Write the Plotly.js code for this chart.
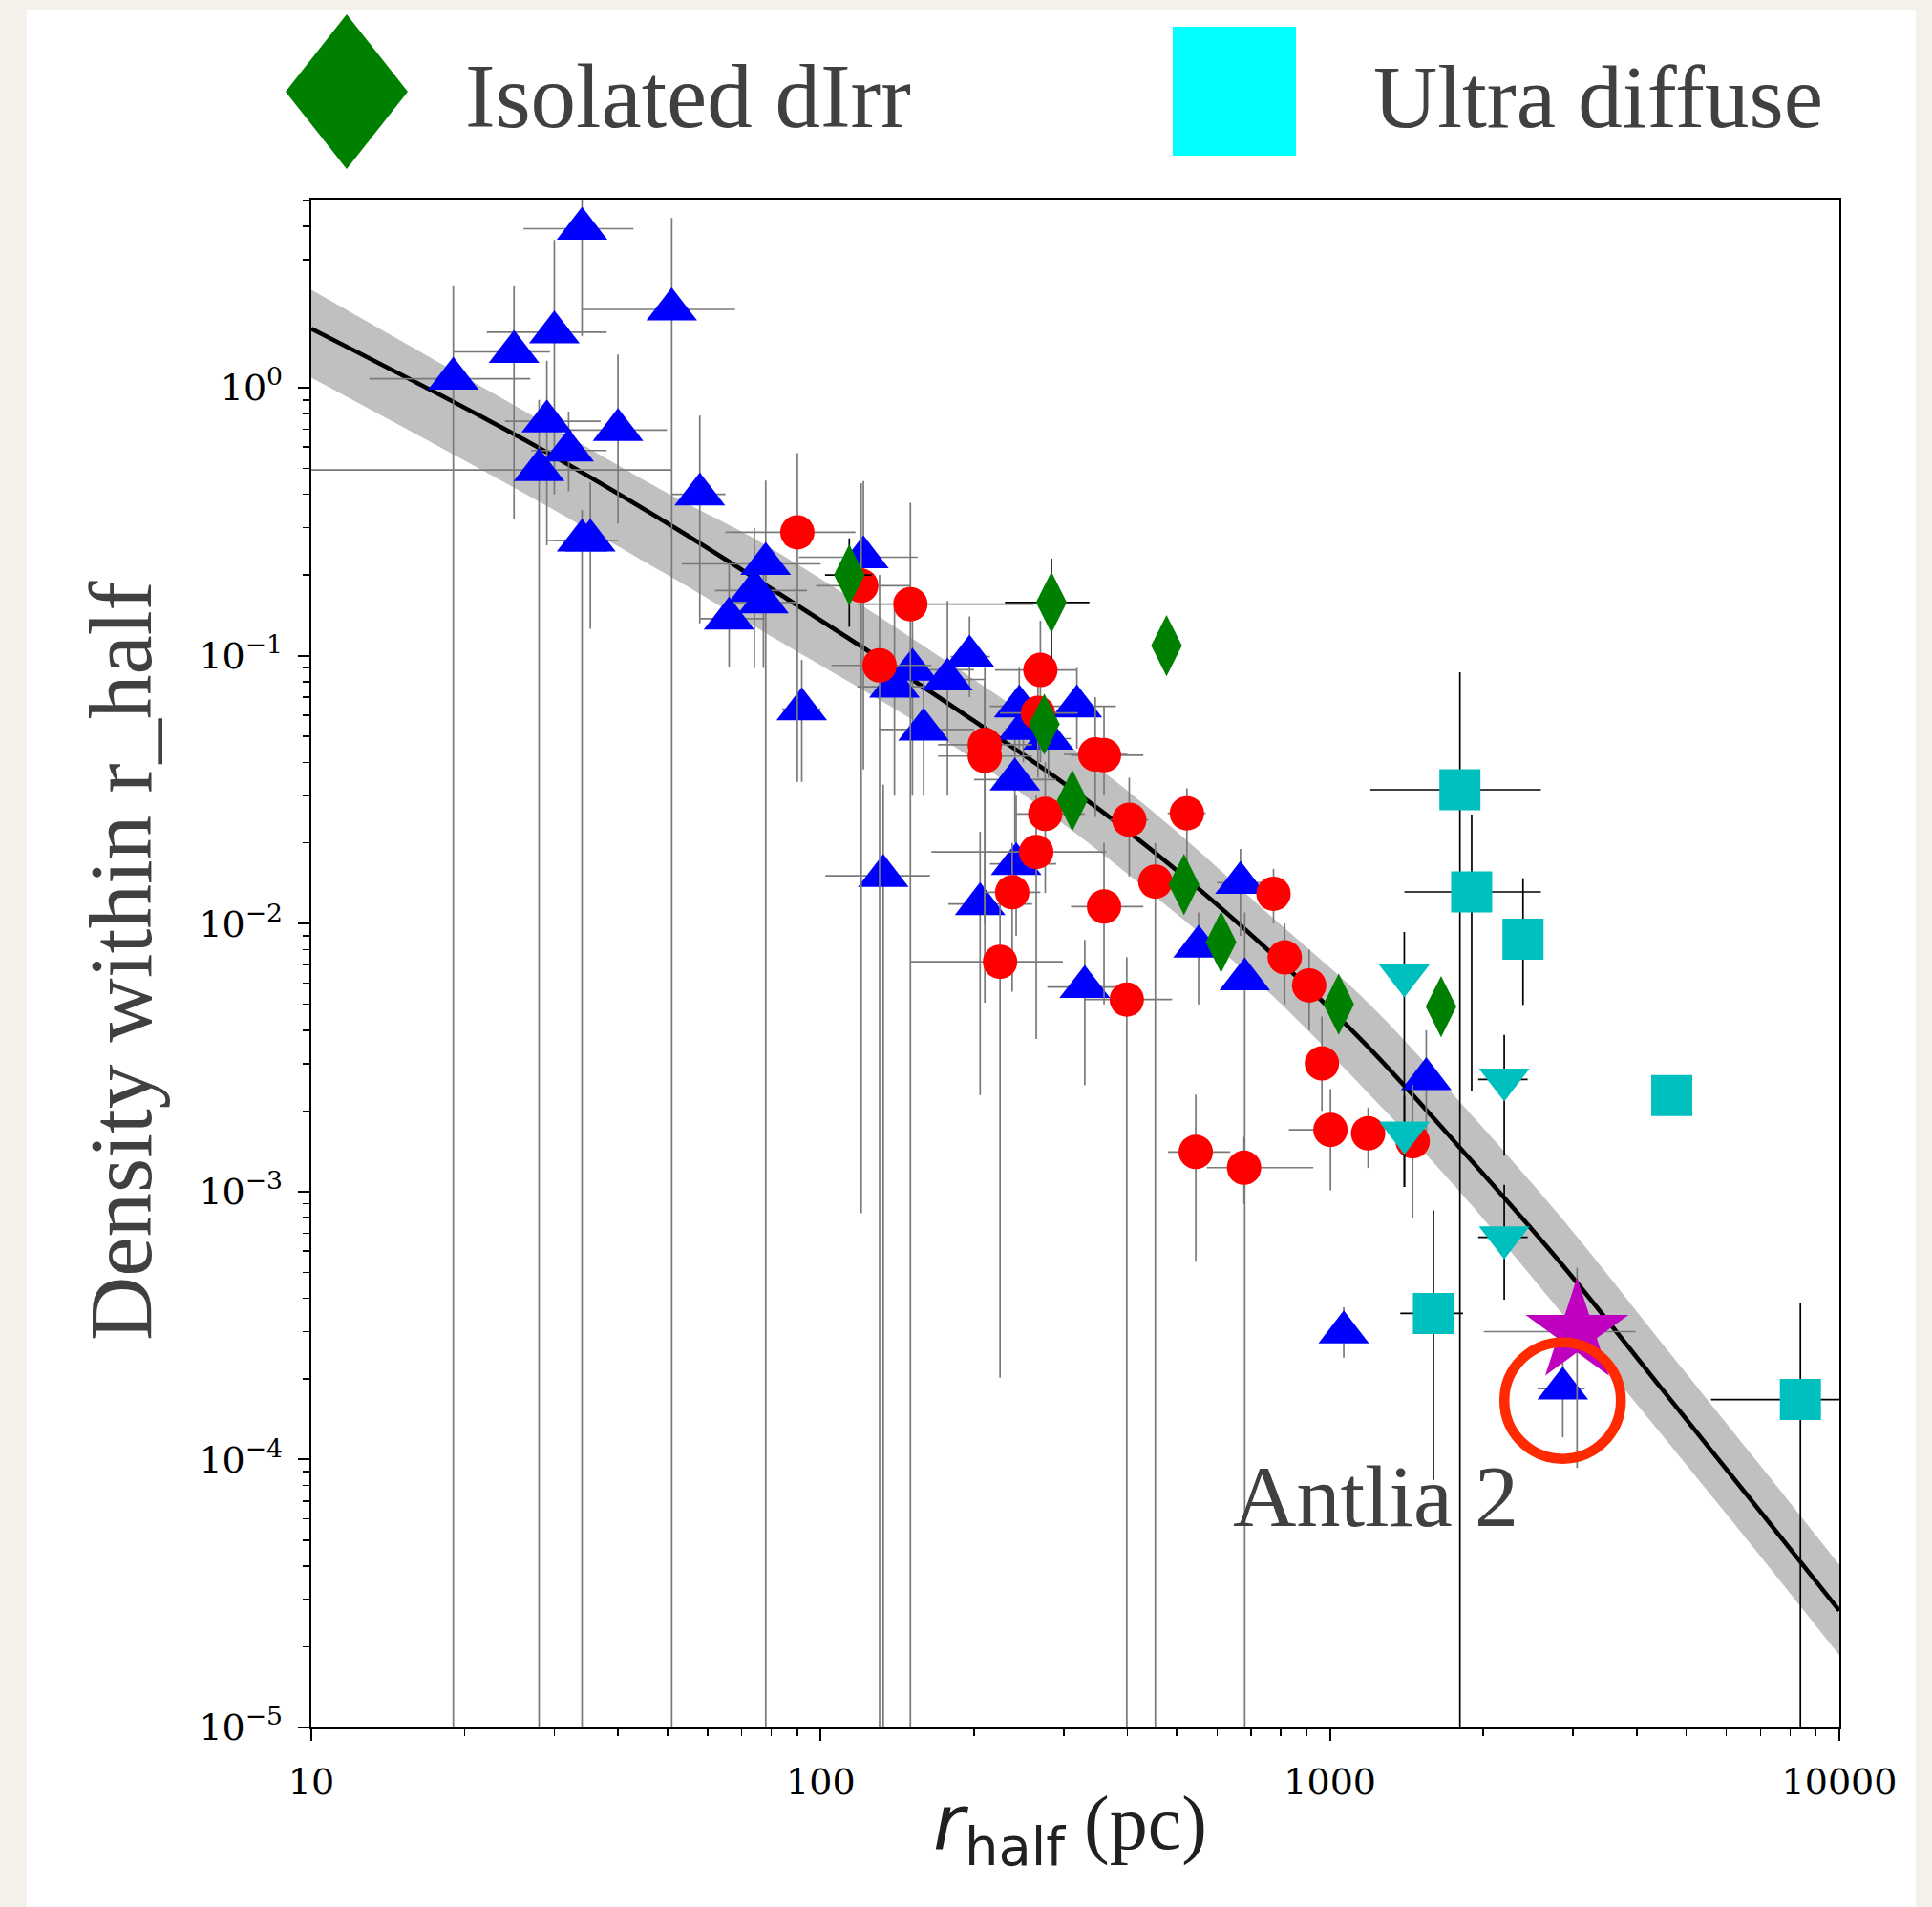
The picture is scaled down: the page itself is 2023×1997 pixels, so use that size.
<!DOCTYPE html>
<html>
<head>
<meta charset="utf-8">
<script src="https://cdn.plot.ly/plotly-3.0.1.min.js"></script>
<style>
  html, body { margin: 0; padding: 0; background: #f4f1ea; }
  #chart { width: 2023px; height: 1997px; }
</style>
</head>
<body>
<div id="chart"></div>
<script>
// ---------------- model relation and its scatter band ----------------
const curveR   = [10, 26.4, 51.0, 77.6, 175.4, 316, 491, 764, 1186, 1803, 2864, 4446, 6902, 10000];
const curveRho = [1.66, 0.634, 0.305, 0.1845, 0.0675, 0.0311, 0.01625, 0.00781, 0.00348, 0.00145, 0.00053, 0.000187, 6.6e-5, 2.73e-5];
const bandHi   = [2.32, 0.811, 0.396, 0.260, 0.0963, 0.0444, 0.0227, 0.0107, 0.00508, 0.00215, 0.000787, 0.000277, 9.8e-5, 4.04e-5];
const bandLo   = [1.09, 0.40, 0.196, 0.122, 0.0483, 0.0218, 0.01117, 0.00547, 0.00234, 0.000993, 0.000348, 0.000126, 4.5e-5, 1.86e-5];

// ---------------- Milky Way / M31 satellites (blue triangles) ----------------
const satR     = [34.0, 51.0, 30.0, 25.0, 19.0, 29.0, 40.0, 32.0, 28.0, 34.0, 35.3, 57.9, 78.0, 74.1, 77.2, 66.1, 91.8, 121.3, 151.4, 139.6, 177.4, 196, 159.2, 132.7, 205.6, 242, 240.6, 245.4, 250, 280, 318.4, 330, 552, 667, 680, 1064, 1545, 2864];
const satRho   = [3.92, 1.96, 1.61, 1.36, 1.08, 0.749, 0.695, 0.583, 0.493, 0.269, 0.269, 0.400, 0.220, 0.175, 0.158, 0.1375, 0.0631, 0.233, 0.0886, 0.0766, 0.0815, 0.0992, 0.053, 0.01507, 0.01183, 0.0167, 0.0345, 0.0647, 0.0533, 0.049, 0.0647, 0.0058, 0.0082, 0.0142, 0.0062, 0.000298, 0.00263, 0.000184];
const satRlo   = [26.1, 34.0, 22.1, 19.0, 13.0, 24.0, 31.4, 27.0, 9.0, 29.0, 30.0, 51.0, 53.4, 62, 65, 58, 84, 90.6, 120, 118, 150, 180, 130, 102.2, 178, 215, 200, 215, 230, 255, 280, 278.6, 520, 600, 640, 1000, 1500, 2553];
const satRhi   = [42.9, 67.9, 38.0, 29.4, 26.9, 37.0, 49.9, 38.0, 51.0, 38.9, 40.0, 65.0, 100, 94, 90, 78, 100, 155, 200, 165, 210, 215, 200, 163.9, 260, 290, 290, 285, 275, 310, 380, 419.5, 590, 740, 720, 1130, 1600, 3164];
const satRholo = [1.56, 1e-7, 0.40, 0.324, 1e-7, 0.258, 0.311, 0.411, 1e-7, 1e-7, 0.126, 0.132, 1e-7, 0.09, 0.09, 0.091, 0.0338, 0.0376, 0.03, 0.03, 0.03, 0.07, 0.03, 1e-7, 0.00229, 0.009, 0.02, 0.045, 0.04, 0.035, 0.045, 0.0025, 0.005, 0.009, 1e-7, 0.00024, 0.0015, 0.000121];
const satRhohi = [8, 4.3, 3.56, 2.41, 2.41, 1.26, 1.33, 0.815, 0.90, 0.35, 0.444, 0.787, 0.45, 0.30, 0.25, 0.22, 0.0963, 0.448, 0.15, 0.15, 0.16, 0.14, 0.09, 0.033, 0.022, 0.03, 0.055, 0.09, 0.07, 0.065, 0.09, 0.0087, 0.011, 0.019, 0.011, 0.00037, 0.004, 0.00023];

// ---------------- red circles ----------------
const redR     = [90, 120.1, 150, 130.5, 270, 267, 210, 210, 346, 360, 276, 265, 237.7, 225, 360, 403.5, 454, 399, 523.6, 774.6, 815, 910, 964, 545, 678, 1002, 1188, 1453];
const redRho   = [0.2886, 0.1825, 0.1556, 0.092, 0.0884, 0.0611, 0.0465, 0.0422, 0.0428, 0.0425, 0.02566, 0.0185, 0.0131, 0.0072, 0.01158, 0.0244, 0.01435, 0.00521, 0.0258, 0.01292, 0.00748, 0.00588, 0.00301, 0.001405, 0.001228, 0.0017, 0.00165, 0.00154];
const redRlo   = [65, 98, 118, 105, 220, 225, 170, 170, 300, 310, 240, 165, 210, 150, 310, 370, 420, 330, 480, 740, 780, 840, 930, 481, 573, 830, 1130, 1350];
const redRhi   = [117, 150, 262, 165, 319, 320, 260, 260, 400, 430, 330, 364, 270, 299, 430, 440, 500, 490, 570, 810, 850, 980, 1000, 637, 927, 1086, 1250, 1560];
const redRholo = [0.0338, 0.00083, 1e-7, 1e-7, 0.04, 0.035, 0.01, 0.00507, 0.025, 0.03, 0.013, 0.00371, 0.00557, 0.000202, 0.005, 0.015, 1e-7, 1e-7, 0.017, 0.01, 0.005, 0.004, 0.002, 0.000547, 0.0009, 0.00101, 0.001224, 0.0008];
const redRhohi = [0.57, 0.44, 0.372, 0.2, 0.135, 0.1, 0.09, 0.08, 0.07, 0.065, 0.04, 0.03, 0.02, 0.013, 0.02, 0.035, 0.02, 0.0075, 0.032, 0.016, 0.01, 0.008, 0.0045, 0.0023, 0.0016, 0.00241, 0.00206, 0.0025];

// ---------------- isolated dIrr (green diamonds) ----------------
const dirrR     = [113.8, 283.8, 477.6, 274.8, 311.9, 516.7, 611, 1040, 1652];
const dirrRho   = [0.200, 0.158, 0.109, 0.0555, 0.0288, 0.0140, 0.00853, 0.0050, 0.0049];
const dirrRlo   = [102, 230, 477.6, 274.8, 311.9, 516.7, 611, 1040, 1652];
const dirrRhi   = [126, 337, 477.6, 274.8, 311.9, 516.7, 611, 1040, 1652];
const dirrRholo = [0.128, 0.0973, 0.109, 0.0555, 0.0288, 0.0140, 0.00853, 0.0050, 0.0049];
const dirrRhohi = [0.274, 0.230, 0.109, 0.0555, 0.0288, 0.0140, 0.00853, 0.0050, 0.0049];

// ---------------- ultra diffuse (cyan squares) ----------------
const udgR     = [1799, 1897, 2393, 4688, 1596, 8385];
const udgRho   = [0.0316, 0.01313, 0.00875, 0.00228, 0.000351, 0.0001675];
const udgRlo   = [1200, 1400, 2393, 4688, 1374, 5598];
const udgRhi   = [2594, 2594, 2393, 4688, 1824, 20000];
const udgRholo = [1e-7, 0.00237, 0.00497, 0.00228, 8.4e-5, 1e-7];
const udgRhohi = [0.0867, 0.0255, 0.01476, 0.00228, 0.00085, 0.000384];

// ---------------- cyan down triangles ----------------
const cdR     = [1399, 2198, 1400, 2198];
const cdRho   = [0.0064, 0.00262, 0.00166, 0.000675];
const cdRlo   = [1300, 1954, 1360, 1954];
const cdRhi   = [1497, 2443, 1500, 2443];
const cdRholo = [0.00104, 0.00136, 0.00104, 0.000395];
const cdRhohi = [0.0093, 0.00384, 0.00229, 0.00106];

// ---------------- magenta star ----------------
const starR = [3055], starRho = [0.0003];
const starRlo = [2003], starRhi = [3981], starRholo = [9.3e-5], starRhohi = [0.000519];

// ---------------- Antlia 2 highlight ----------------
const ringR = [2862], ringRho = [0.000166];
const ringLabel = 'Antlia 2';

// ---------------- axis ticks and labels ----------------
const xTickVals = [10, 100, 1000, 10000];
const xTickText = ['10', '100', '1000', '10000'];
const yTickVals = [1e-5, 1e-4, 1e-3, 1e-2, 1e-1, 1];
const yTickText = ['10<sup>\u22125</sup>', '10<sup>\u22124</sup>', '10<sup>\u22123</sup>', '10<sup>\u22122</sup>', '10<sup>\u22121</sup>', '10<sup>0</sup>'];
const legendLabels = ['Isolated dIrr', 'Ultra diffuse'];
const xTitle = '<span style="font-family:\'DejaVu Sans\'"><i>r</i><sub>half</sub></span> (pc)';
const yTitle = 'Density within r_half';

// minor ticks at 2..9 of each decade
function minorTicks(e0, e1, top) {
  const out = [];
  for (let e = e0; e < e1; e++) {
    for (let k = 2; k <= 9; k++) {
      const v = k * Math.pow(10, e);
      if (v <= top) out.push(v);
    }
  }
  return out;
}

// page geometry (pixels)
const W = 2023, H = 1997;
const PL = 326, PR = 1926, PT = 209, PB = 1809;
const px = x => (x - PL) / (PR - PL);
const py = y => (PB - y) / (PB - PT);

const GREY = '#7a7a7a';

function pointTrace(r, rho, rlo, rhi, rholo, rhohi, marker, errColor) {
  return {
    type: 'scatter', mode: 'markers', x: r, y: rho, hoverinfo: 'skip',
    marker: marker,
    error_x: { type: 'data', symmetric: false, color: errColor, thickness: 1.7, width: 0,
               array: rhi.map((h, i) => h - r[i]), arrayminus: rlo.map((l, i) => r[i] - l) },
    error_y: { type: 'data', symmetric: false, color: errColor, thickness: 1.7, width: 0,
               array: rhohi.map((h, i) => h - rho[i]), arrayminus: rholo.map((l, i) => rho[i] - l) }
  };
}

const traces = [
  { type: 'scatter', mode: 'lines', x: curveR, y: bandLo, line: { width: 0, shape: 'spline', smoothing: 1 }, hoverinfo: 'skip' },
  { type: 'scatter', mode: 'lines', x: curveR, y: bandHi, line: { width: 0, shape: 'spline', smoothing: 1 },
    fill: 'tonexty', fillcolor: '#c0c0c0', hoverinfo: 'skip' },
  { type: 'scatter', mode: 'lines', x: curveR, y: curveRho, line: { color: '#000000', width: 4.6, shape: 'spline', smoothing: 1 }, hoverinfo: 'skip' },
  pointTrace(satR, satRho, satRlo, satRhi, satRholo, satRhohi, { symbol: 'triangle-up', size: 46, color: '#0000ff' }, GREY),
  pointTrace(redR, redRho, redRlo, redRhi, redRholo, redRhohi, { symbol: 'circle', size: 36, color: '#ff0000' }, GREY),
  pointTrace(dirrR, dirrRho, dirrRlo, dirrRhi, dirrRholo, dirrRhohi, { symbol: 'diamond-tall', size: 46, color: '#008000' }, '#000000'),
  pointTrace(udgR, udgRho, udgRlo, udgRhi, udgRholo, udgRhohi, { symbol: 'square', size: 43, color: '#00bfbf' }, '#000000'),
  pointTrace(cdR, cdRho, cdRlo, cdRhi, cdRholo, cdRhohi, { symbol: 'triangle-down', size: 46, color: '#00bfbf' }, '#000000'),
  pointTrace(starR, starRho, starRlo, starRhi, starRholo, starRhohi, { symbol: 'star', size: 81, color: '#bf00bf' }, GREY),
  { type: 'scatter', mode: 'markers', x: ringR, y: ringRho, hoverinfo: 'skip',
    marker: { symbol: 'circle-open', size: 122, color: '#ff2a00', line: { width: 10.5, color: '#ff2a00' } } }
];

const serif = 'Liberation Serif, DejaVu Serif, serif';
const tickFont = { family: 'DejaVu Serif', size: 38, color: '#000000' };

const axisCommon = {
  type: 'log', showgrid: false, zeroline: false,
  showline: true, linecolor: '#000000', linewidth: 2.4, mirror: true,
  ticks: 'outside', ticklen: 12, tickwidth: 2, tickcolor: '#000000',
  tickmode: 'array', tickfont: tickFont
};

const layout = {
  width: W, height: H,
  margin: { l: PL, r: W - PR, t: PT, b: H - PB, pad: 0 },
  paper_bgcolor: '#f4f1ea', plot_bgcolor: '#ffffff',
  showlegend: false,
  xaxis: Object.assign({}, axisCommon, {
    range: [1, 4], tickvals: xTickVals, ticktext: xTickText, ticklabelstandoff: 10,
    minor: { tickmode: 'array', tickvals: minorTicks(1, 4, 1e4), ticks: 'outside', ticklen: 7, tickwidth: 1.5, tickcolor: '#000000', showgrid: false }
  }),
  yaxis: Object.assign({}, axisCommon, {
    range: [-5, 0.702], tickvals: yTickVals, ticktext: yTickText, ticklabelstandoff: 8,
    minor: { tickmode: 'array', tickvals: minorTicks(-5, 1, 5.03), ticks: 'outside', ticklen: 7, tickwidth: 1.5, tickcolor: '#000000', showgrid: false }
  }),
  shapes: [
    // white sheet behind the figure
    { type: 'rect', xref: 'paper', yref: 'paper', x0: px(28), x1: px(2006), y0: py(H), y1: py(10),
      fillcolor: '#ffffff', line: { width: 0 }, layer: 'below' },
    // legend glyphs
    { type: 'path', xref: 'paper', yref: 'paper', layer: 'above',
      path: `M ${px(363)},${py(15)} L ${px(427)},${py(96)} L ${px(363)},${py(177)} L ${px(299)},${py(96)} Z`,
      fillcolor: '#008000', line: { width: 0 } },
    { type: 'rect', xref: 'paper', yref: 'paper', layer: 'above',
      x0: px(1228), x1: px(1357), y0: py(163), y1: py(28), fillcolor: '#00ffff', line: { width: 0 } }
  ],
  annotations: [
    { xref: 'paper', yref: 'paper', x: px(485), y: py(101), xanchor: 'left', yanchor: 'middle', showarrow: false,
      text: legendLabels[0], font: { family: serif, size: 95, color: '#404040' } },
    { xref: 'paper', yref: 'paper', x: px(1436), y: py(101), xanchor: 'left', yanchor: 'middle', showarrow: false,
      text: legendLabels[1], font: { family: serif, size: 93, color: '#404040' } },
    { xref: 'paper', yref: 'paper', x: px(1289), y: py(1567), xanchor: 'left', yanchor: 'middle', showarrow: false,
      text: ringLabel, font: { family: serif, size: 92, color: '#404040' } },
    { xref: 'paper', yref: 'paper', x: px(126), y: py(1006), xanchor: 'center', yanchor: 'middle', showarrow: false,
      textangle: -90, text: yTitle, font: { family: serif, size: 93, color: '#404040' } },
    { xref: 'paper', yref: 'paper', x: px(1120), y: py(1914), xanchor: 'center', yanchor: 'middle', showarrow: false,
      text: xTitle, font: { family: serif, size: 80, color: '#202020' } }
  ]
};

Plotly.newPlot('chart', traces, layout, { staticPlot: true, displayModeBar: false });
</script>
</body>
</html>
